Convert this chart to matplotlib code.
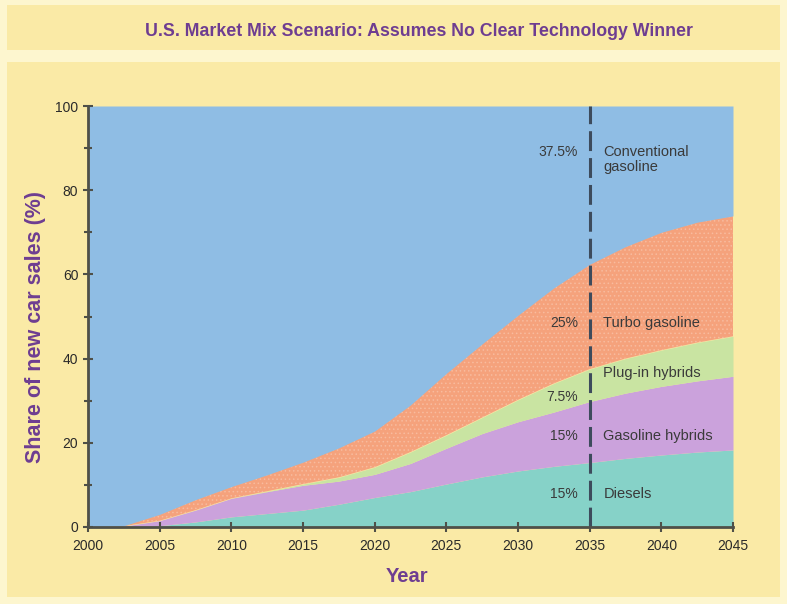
import matplotlib
matplotlib.use("Agg")
import matplotlib.pyplot as plt
from matplotlib.patches import Rectangle
import numpy as np

plt.rcParams['font.family'] = ['Liberation Sans', 'DejaVu Sans']
plt.rcParams['hatch.linewidth'] = 0.6

years = [2000, 2002.5, 2005, 2007.5, 2010, 2012.5, 2015, 2017.5, 2020, 2022.5,
         2025, 2027.5, 2030, 2032.5, 2035, 2037.5, 2040, 2042.5, 2045]
# cumulative tops
diesel_top = [0, 0, 0.3, 1.2, 2.4, 3.2, 4.0, 5.4, 7.0, 8.4,
              10.2, 11.9, 13.3, 14.4, 15.3, 16.3, 17.1, 17.8, 18.3]
hybrid_top = [0, 0.2, 1.5, 4.0, 6.8, 8.4, 9.9, 10.9, 12.5, 15.1,
              18.7, 22.2, 25.0, 27.3, 29.8, 31.8, 33.4, 34.7, 35.8]
plugin_top = [0, 0.2, 1.5, 4.0, 6.8, 8.5, 10.2, 11.8, 14.2, 17.8,
              21.8, 26.0, 30.2, 34.1, 37.5, 40.0, 42.0, 43.8, 45.3]
turbo_top = [0, 0.3, 3.0, 6.5, 9.6, 12.4, 15.4, 18.8, 22.8, 29.0,
             36.5, 43.5, 50.3, 56.8, 62.4, 66.6, 70.0, 72.4, 73.9]
total = [100] * len(years)

x_ticks = [2000, 2005, 2010, 2015, 2020, 2025, 2030, 2035, 2040, 2045]
y_ticks = [0, 20, 40, 60, 80, 100]
scenario_year = 2035

pct_labels = ["37.5%", "25%", "7.5%", "15%", "15%"]
pct_y = [89, 48.5, 30.9, 21.6, 7.8]
name_labels = ["Conventional\ngasoline", "Turbo gasoline", "Plug-in hybrids",
               "Gasoline hybrids", "Diesels"]
name_y = [89, 48.5, 36.6, 21.6, 7.8]

c_blue = '#8FBDE4'
c_orange = '#F5A27C'
c_green = '#C9E4A2'
c_purple = '#CBA2DC'
c_teal = '#86D2C8'
purple_txt = '#6E3D91'
txt = '#3A3A3A'

fig = plt.figure(figsize=(7.87, 6.04), dpi=100)
fig.patch.set_facecolor('#FDF6CF')
# title band and main panel
fig.patches.append(Rectangle((7/787, 1-50/604), 773/787, 45/604, transform=fig.transFigure,
                             facecolor='#FAEAA6', edgecolor='none', zorder=-10))
fig.patches.append(Rectangle((7/787, 1-597/604), 773/787, 535/604, transform=fig.transFigure,
                             facecolor='#FAEAA6', edgecolor='none', zorder=-10))
fig.text(419/787, 1-31/604, "U.S. Market Mix Scenario: Assumes No Clear Technology Winner",
         ha='center', va='center', color=purple_txt, fontsize=12.8, fontweight='bold')

ax = fig.add_axes([88/787, 1-527/604, 645/787, 421/604])
ax.set_facecolor('none')
y = np.array(years)
ax.fill_between(y, 0, diesel_top, color=c_teal, lw=0)
ax.fill_between(y, diesel_top, hybrid_top, color=c_purple, lw=0)
ax.fill_between(y, hybrid_top, plugin_top, color=c_green, lw=0)
ax.fill_between(y, plugin_top, turbo_top, facecolor=c_orange, edgecolor='#F8BB9E',
                hatch='....', lw=0)
ax.fill_between(y, turbo_top, total, color=c_blue, lw=0)

ax.axvline(scenario_year, color='#3D4B5C', lw=2.2, ls=(0, (6.5, 2.3)))

for s, v in zip(pct_labels, pct_y):
    ax.text(scenario_year - 0.8, v, s, ha='right', va='center', fontsize=10, color=txt)
for s, v in zip(name_labels, name_y):
    if '\n' in s:
        ax.text(scenario_year + 0.95, v + 1.8, s, ha='left', va='top', fontsize=10.5,
                color=txt, linespacing=1.15)
    else:
        ax.text(scenario_year + 0.95, v, s, ha='left', va='center', fontsize=10.5, color=txt)

ax.set_xlim(2000, 2045)
ax.set_ylim(0, 100)
ax.set_xticks(x_ticks)
ax.set_yticks(y_ticks)
ax.set_yticks(np.arange(10, 100, 20), minor=True)
ax.tick_params(axis='both', which='both', direction='inout', color='#4F5048',
               width=1.5, labelsize=10, labelcolor='#2A2A2A')
ax.tick_params(axis='both', which='major', length=7)
ax.tick_params(axis='x', which='major', pad=5)
ax.tick_params(axis='y', which='minor', length=6)
for side in ['top', 'right']:
    ax.spines[side].set_visible(False)
for side in ['left', 'bottom']:
    ax.spines[side].set_color('#4F5048')
    ax.spines[side].set_linewidth(2)
ax.set_xlabel("Year", color=purple_txt, fontsize=14.5, fontweight='bold')
ax.xaxis.set_label_coords((407 - 88) / 645, -(577 - 527) / 421)
ax.xaxis.label.set_va('center')
ax.set_ylabel("Share of new car sales (%)", color=purple_txt, fontsize=15.5,
              fontweight='bold')
ax.yaxis.set_label_coords(-(88 - 35) / 645, (527 - 327) / 421)
ax.yaxis.label.set_va('center')

fig.savefig("out.png", dpi=100, facecolor=fig.get_facecolor())
